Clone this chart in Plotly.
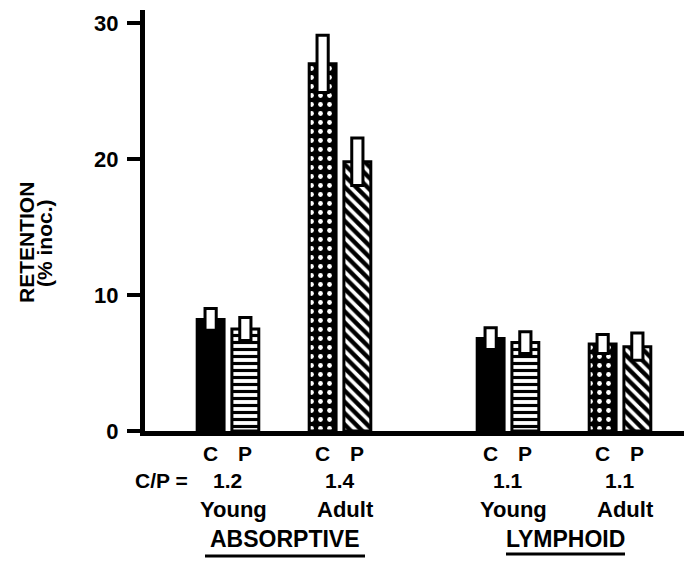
import plotly.graph_objects as go

# ---- data ----
age_groups = ["Young", "Adult", "Young", "Adult"]
tissues = ["ABSORPTIVE", "LYMPHOID"]
cp_ratio_labels = ["1.2", "1.4", "1.1", "1.1"]
c_means = [8.2, 27.0, 6.8, 6.4]
c_se = [0.8, 2.1, 0.8, 0.7]
p_means = [7.5, 19.8, 6.5, 6.2]
p_se = [0.85, 1.75, 0.8, 1.0]
y_ticks = [0, 10, 20, 30]

# ---- layout constants ----
PAGE_OFF = 8          # default body margin of the html page
W, H = 684, 554
ML, MR, MT, MB = 137, 2, 2, 131
group_pos = [0, 1, 2.5, 3.5]
OFF = 0.155
BW = 0.24
EBW = 0.10
X_RANGE = [-0.741, 4.125]
Y_RANGE = [0, 30.96]
FONT = "Liberation Sans, Arial, Helvetica, sans-serif"

xc = [g - OFF for g in group_pos]
xp = [g + OFF for g in group_pos]

pw = W - ML - MR
ph = H - MT - MB


def px_x(px):
    return (px - PAGE_OFF - ML) / pw


def px_y(py):
    return (H - MB - (py - PAGE_OFF)) / ph


fig = go.Figure()

# C bars (solid black for young, black with white dots (cross-hatch) for adult)
fig.add_trace(go.Bar(
    x=xc, y=c_means, width=BW,
    marker=dict(
        color="black",
        line=dict(color="black", width=3),
        pattern=dict(shape=["", ".", "", "."], fgcolor="white", fgopacity=1,
                     bgcolor="black", size=9, solidity=0.22),
    ),
    showlegend=False, hoverinfo="skip",
))
# P bars (horizontal stripes for young, diagonal for adult)
fig.add_trace(go.Bar(
    x=xp, y=p_means, width=BW,
    marker=dict(
        color="white",
        line=dict(color="black", width=3),
        pattern=dict(shape=["-", "\\", "-", "\\"], fgcolor="black", fgopacity=1,
                     bgcolor="white", size=[7, 8, 7, 8],
                     solidity=[0.45, 0.55, 0.45, 0.55]),
    ),
    showlegend=False, hoverinfo="skip",
))
# error boxes (mean +/- SE)
fig.add_trace(go.Bar(
    x=xc + xp,
    y=[2 * s for s in c_se + p_se],
    base=[m - s for m, s in zip(c_means + p_means, c_se + p_se)],
    width=EBW,
    marker=dict(color="white", line=dict(color="black", width=3)),
    showlegend=False, hoverinfo="skip",
))

ann = []
bold = dict(family=FONT, size=21, color="black", weight="bold")
for i, g in enumerate(group_pos):
    ann.append(dict(x=xc[i], y=px_y(453), xref="x", yref="paper", text="C",
                    showarrow=False, font=bold, xanchor="center", yanchor="middle"))
    ann.append(dict(x=xp[i], y=px_y(453), xref="x", yref="paper", text="P",
                    showarrow=False, font=bold, xanchor="center", yanchor="middle"))
    ann.append(dict(x=g, y=px_y(480), xref="x", yref="paper", text=cp_ratio_labels[i],
                    showarrow=False, font=bold, xanchor="center", yanchor="middle"))
    ann.append(dict(x=g + 0.05, y=px_y(509), xref="x", yref="paper", text=age_groups[i],
                    showarrow=False, font=dict(family=FONT, size=22, color="black", weight="bold"),
                    xanchor="center", yanchor="middle"))

ann.append(dict(x=px_x(161), y=px_y(480), xref="paper", yref="paper", text="C/P =",
                showarrow=False, font=bold, xanchor="center", yanchor="middle"))
tissue_px = [285, 565]
for t, cx in zip(tissues, tissue_px):
    ann.append(dict(x=px_x(cx), y=px_y(539), xref="paper", yref="paper", text=t,
                    showarrow=False, font=dict(family=FONT, size=23, color="black", weight="bold"),
                    xanchor="center", yanchor="middle"))

ann.append(dict(x=px_x(26), y=px_y(243), xref="paper", yref="paper", text="RETENTION",
                textangle=-90, showarrow=False, font=bold, xanchor="center", yanchor="middle"))
ann.append(dict(x=px_x(44), y=px_y(243), xref="paper", yref="paper", text="(% inoc.)",
                textangle=-90, showarrow=False, font=bold, xanchor="center", yanchor="middle"))

shapes = [
    dict(type="line", xref="paper", yref="paper", x0=px_x(205), x1=px_x(365),
         y0=px_y(556), y1=px_y(556), line=dict(color="black", width=3)),
    dict(type="line", xref="paper", yref="paper", x0=px_x(506), x1=px_x(625),
         y0=px_y(554), y1=px_y(554), line=dict(color="black", width=3)),
]

fig.update_layout(
    width=W, height=H,
    margin=dict(l=ML, r=MR, t=MT, b=MB),
    paper_bgcolor="white", plot_bgcolor="white",
    barmode="overlay",
    annotations=ann, shapes=shapes,
    xaxis=dict(range=X_RANGE, showgrid=False, zeroline=False, showticklabels=False,
               ticks="", showline=True, linecolor="black", linewidth=5),
    yaxis=dict(range=Y_RANGE, tickvals=y_ticks, ticktext=[str(v) for v in y_ticks],
               showgrid=False, zeroline=False, ticks="outside", ticklen=13, tickwidth=4,
               tickcolor="black", showline=True, linecolor="black", linewidth=5,
               ticklabelstandoff=4,
               tickfont=dict(family=FONT, size=22, color="black", weight="bold")),
)

fig.write_html("out.html")
